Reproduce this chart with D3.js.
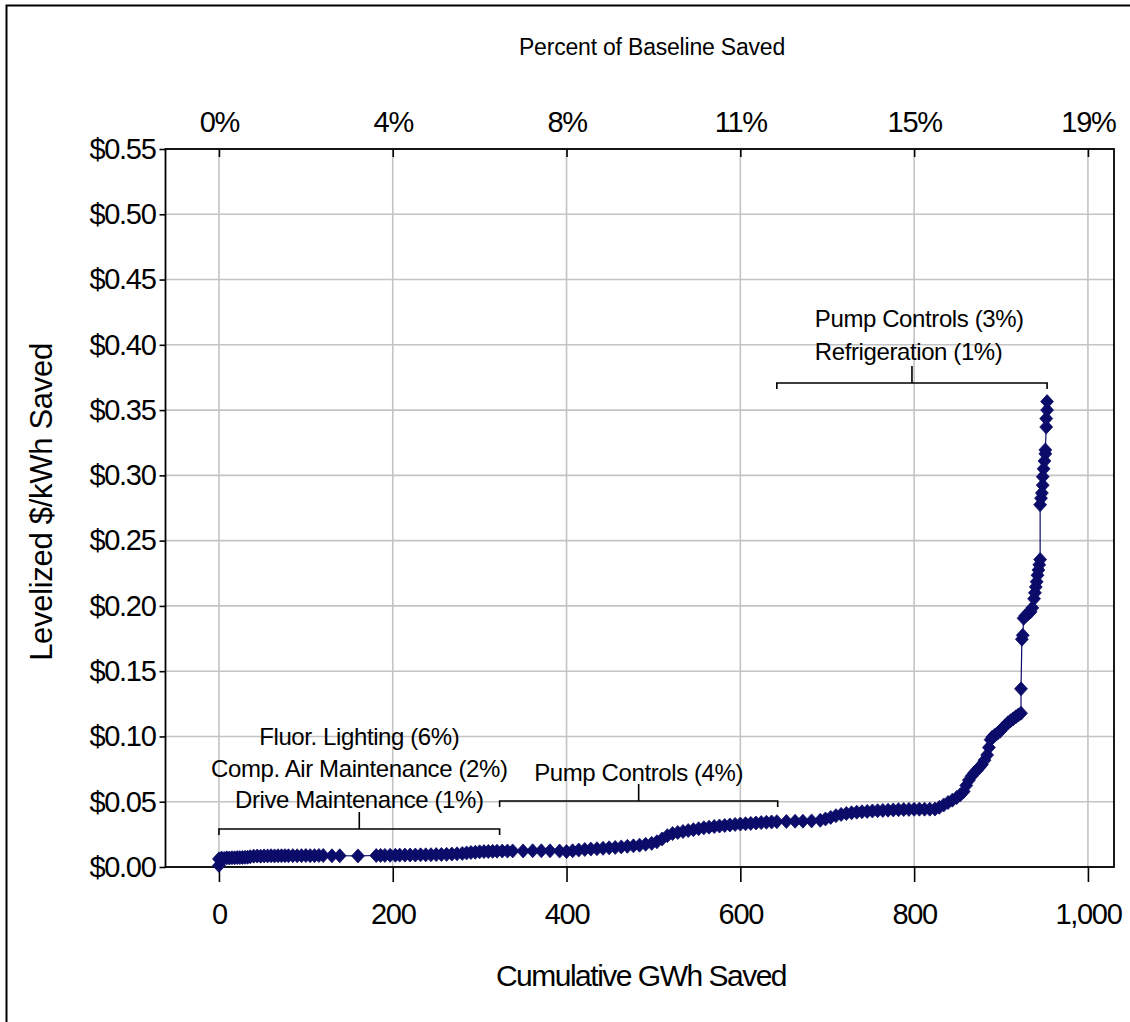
<!DOCTYPE html>
<html>
<head>
<meta charset="utf-8">
<script src="https://cdn.jsdelivr.net/npm/d3@7/dist/d3.min.js"></script>
<style>
  html, body { margin: 0; padding: 0; background: #fff; }
  svg { display: block; font-family: "Liberation Sans", Arial, sans-serif; }
</style>
</head>
<body>
<svg id="chart" width="1130" height="1022"></svg>
<script>
// ---- data ----
const xTicks = [0, 200, 400, 600, 800, 1000];
const xTickLabels = ["0", "200", "400", "600", "800", "1,000"];
const pctTickLabels = ["0%", "4%", "8%", "11%", "15%", "19%"];
const yTicks = [0, 0.05, 0.10, 0.15, 0.20, 0.25, 0.30, 0.35, 0.40, 0.45, 0.50, 0.55];

// cumulative GWh saved, levelized $/kWh
const savingsCurve = [
  [0,0.0012],
  [0,0.0062],[3,0.0068],[6,0.0066],[9,0.007],[12,0.0069],[15,0.0071],[18,0.007],[21,0.0072],[24,0.0072],
  [27,0.0073],[30,0.0074],[33,0.0075],[36,0.0079],[40,0.0083],[44,0.0084],[48,0.0083],[52,0.0085],[56,0.0085],
  [60,0.0086],[64,0.0085],[68,0.0086],[72,0.0086],[76,0.0087],[80,0.0086],[85,0.0087],[90,0.0086],[95,0.0087],
  [100,0.0088],[105,0.0087],[110,0.0087],[115,0.0088],[120,0.0088],[130,0.0086],[139,0.0086],[160,0.0085],
  [181,0.0088],[186,0.0089],[191,0.0089],[197,0.009],[203,0.009],[208,0.0091],[214,0.0091],[220,0.0092],
  [226,0.0092],[232,0.0093],[238,0.0093],[244,0.0094],[250,0.0095],[256,0.0096],[262,0.0097],[268,0.0099],
  [274,0.0101],[280,0.0104],[285,0.0108],[290,0.0111],[295,0.0113],[300,0.0116],[305,0.0118],[310,0.0119],
  [315,0.012],[320,0.0121],[326,0.0122],[332,0.0122],[338,0.0123],[350,0.0123],[361,0.0124],[371,0.0124],
  [381,0.0124],[392,0.0122],[400,0.0118],[407,0.0124],[414,0.013],[421,0.0134],[428,0.0137],[435,0.014],
  [442,0.0143],[449,0.0147],[456,0.015],[463,0.0154],[470,0.0158],[477,0.0162],[484,0.0167],[491,0.0174],
  [498,0.0181],[504,0.0193],[510,0.0215],[516,0.024],[522,0.0256],[528,0.0264],[534,0.0272],[540,0.0279],
  [546,0.0286],[552,0.0293],[558,0.03],[564,0.0305],[570,0.031],[576,0.0314],[582,0.0318],[588,0.0322],
  [594,0.0326],[600,0.0329],[606,0.0331],[612,0.0334],[618,0.0337],[624,0.034],[630,0.0343],[636,0.0345],
  [642,0.0347],[653,0.0349],[663,0.035],[672,0.0351],[682,0.0353],[692,0.0358],[698,0.0368],[704,0.038],
  [710,0.0393],[716,0.0403],[722,0.041],[728,0.0415],[734,0.042],[740,0.0423],[746,0.0426],[752,0.0429],
  [758,0.0431],[764,0.0433],[770,0.0435],[776,0.0437],[782,0.0439],[788,0.044],[794,0.0441],[800,0.0442],
  [806,0.0443],[812,0.0443],[818,0.0443],[824,0.0444],[829,0.0457],[834,0.0475],[839,0.0494],[844,0.0512],
  [849,0.0532],[853,0.0552],[857,0.0578],[860,0.0625],[863,0.0665],[866,0.0695],[869,0.072],[872,0.074],
  [875,0.0762],[878,0.0785],[881,0.0818],[884,0.0858],[886,0.0915],[888,0.0975],[890,0.0995],[893,0.101],
  [896,0.1025],[899,0.104],[902,0.1065],[905,0.1085],[908,0.1105],[911,0.112],[914,0.1135],[917,0.115],
  [920,0.1165],[923,0.1178],[923,0.1365],[924,0.1745],[925,0.1775],[926,0.1905],[928,0.1925],[930,0.1935],
  [932,0.1945],[934,0.1955],[936,0.1985],[938,0.2055],[939,0.21],[940,0.2145],[941,0.2185],[942,0.2235],
  [943,0.2275],[944,0.2315],[945,0.2355],[945,0.2775],[946,0.2825],[947,0.2865],[948,0.2925],[948,0.299],
  [949,0.305],[950,0.311],[951,0.3165],[951,0.3195],[952,0.337],[952,0.3435],[953,0.35],[953,0.3565]
];

// annotation brackets: [startGWh, endGWh, $ level], label lines
const bracketSpans = [[0, 323, 0.0291], [323, 643, 0.0506], [642, 953, 0.3707]];
const bracketLabels = [
  ["Fluor. Lighting (6%)", "Comp. Air Maintenance (2%)", "Drive Maintenance (1%)"],
  ["Pump Controls (4%)"],
  ["Pump Controls (3%)", "Refrigeration (1%)"]
];

// ---- layout ----
const plot = { left: 165.5, right: 1114, top: 149, bottom: 867 };
const navy = "#0b0b69";
const gridColor = "#c4c4c4";

const svg = d3.select("#chart");
svg.append("rect").attr("width", 1130).attr("height", 1022).attr("fill", "#fff");
// outer frame
svg.append("rect").attr("x", 6.5).attr("y", 5.5).attr("width", 1200).attr("height", 1100)
  .attr("fill", "none").attr("stroke", "#000").attr("stroke-width", 2);

const x = d3.scaleLinear().domain([-61.5, 1030]).range([plot.left, plot.right]);
const y = d3.scaleLinear().domain([0, 0.55]).range([plot.bottom, plot.top]);

// gridlines
const grid = svg.append("g");
grid.selectAll("line.v").data(xTicks).join("line")
  .attr("x1", d => x(d)).attr("x2", d => x(d))
  .attr("y1", plot.top).attr("y2", plot.bottom)
  .attr("stroke", gridColor).attr("stroke-width", 1.6);
grid.selectAll("line.h").data(yTicks).join("line")
  .attr("x1", plot.left).attr("x2", plot.right)
  .attr("y1", d => y(d)).attr("y2", d => y(d))
  .attr("stroke", gridColor).attr("stroke-width", 1.6);

// plot frame
svg.append("rect").attr("x", plot.left).attr("y", plot.top)
  .attr("width", plot.right - plot.left).attr("height", plot.bottom - plot.top)
  .attr("fill", "none").attr("stroke", "#000").attr("stroke-width", 1.8);

// axes
const fmtX = d => xTickLabels[xTicks.indexOf(d)];
const bottomAxis = d3.axisBottom(x).tickValues(xTicks).tickFormat(fmtX).tickSize(15).tickPadding(21);
const topAxis = d3.axisTop(x).tickValues(xTicks).tickFormat(d => pctTickLabels[xTicks.indexOf(d)]).tickSizeInner(-8).tickSizeOuter(0).tickPadding(17);
const leftAxis = d3.axisLeft(y).tickValues(yTicks).tickFormat(d => "$" + d.toFixed(2)).tickSize(6).tickPadding(4);

function styleAxis(g) {
  g.select(".domain").remove();
  g.selectAll(".tick line").attr("stroke", "#000").attr("stroke-width", 1.6);
  g.selectAll(".tick text").attr("fill", "#000").style("font-size", "29px")
    .style("letter-spacing", "-1.3px").style("font-family", "'Liberation Sans', Arial, sans-serif");
}
svg.append("g").attr("transform", `translate(0,${plot.bottom})`).call(bottomAxis).call(styleAxis);
svg.append("g").attr("transform", `translate(0,${plot.top})`).call(topAxis).call(styleAxis);
svg.append("g").attr("transform", `translate(${plot.left},0)`).call(leftAxis).call(styleAxis);

// axis titles
svg.append("text").attr("x", 652).attr("y", 55).attr("text-anchor", "middle")
  .style("font-size", "23px").style("letter-spacing", "-0.2px").text("Percent of Baseline Saved");
svg.append("text").attr("x", 641).attr("y", 986).attr("text-anchor", "middle")
  .style("font-size", "30px").style("letter-spacing", "-1.5px").text("Cumulative GWh Saved");
svg.append("text").attr("transform", "translate(51.5,502) rotate(-90)").attr("text-anchor", "middle")
  .style("font-size", "31px").style("letter-spacing", "-0.3px").text("Levelized $/kWh Saved");

// series line
svg.append("path").datum(savingsCurve)
  .attr("d", d3.line().x(d => x(d[0])).y(d => y(d[1])))
  .attr("fill", "none").attr("stroke", navy).attr("stroke-width", 1.2);

// diamond markers
const diamond = {
  draw(ctx, size) {
    const r = Math.sqrt(size / 2);
    ctx.moveTo(0, -r); ctx.lineTo(r * 0.92, 0); ctx.lineTo(0, r); ctx.lineTo(-r * 0.92, 0); ctx.closePath();
  }
};
svg.append("g").selectAll("path").data(savingsCurve).join("path")
  .attr("transform", d => `translate(${x(d[0])},${y(d[1])})`)
  .attr("d", d3.symbol().type(diamond).size(98))
  .attr("fill", navy).attr("stroke", navy).attr("stroke-width", 0.8);

// annotation brackets
const ann = svg.append("g").attr("stroke", "#000").attr("stroke-width", 1.6).attr("fill", "none");
bracketSpans.forEach(([a, b, lvl]) => {
  const x0 = x(a), x1 = x(b), yy = y(lvl), xm = (x0 + x1) / 2;
  ann.append("path").attr("d", `M${x0},${yy + 6}V${yy}H${x1}V${yy + 6}M${xm},${yy}V${yy - 17}`);
});

const labelStyle = s => s.style("font-size", "24px").style("letter-spacing", "-0.4px").attr("fill", "#000");
// group 1: centered above bracket 1
{
  const [a, b, lvl] = bracketSpans[0];
  const xm = (x(a) + x(b)) / 2;
  bracketLabels[0].forEach((t, i) => {
    svg.append("text").attr("x", xm).attr("y", y(lvl) - 84 + i * 31.5).attr("text-anchor", "middle").call(labelStyle).text(t);
  });
}
// group 2
{
  const [a, b, lvl] = bracketSpans[1];
  const xm = (x(a) + x(b)) / 2;
  svg.append("text").attr("x", xm).attr("y", y(lvl) - 20).attr("text-anchor", "middle").call(labelStyle).text(bracketLabels[1][0]);
}
// group 3: left aligned
{
  const [a, b, lvl] = bracketSpans[2];
  const xs = x(a) + 38;
  bracketLabels[2].forEach((t, i) => {
    svg.append("text").attr("x", xs).attr("y", y(lvl) - 56 + i * 33).attr("text-anchor", "start").call(labelStyle).text(t);
  });
}
</script>
</body>
</html>
